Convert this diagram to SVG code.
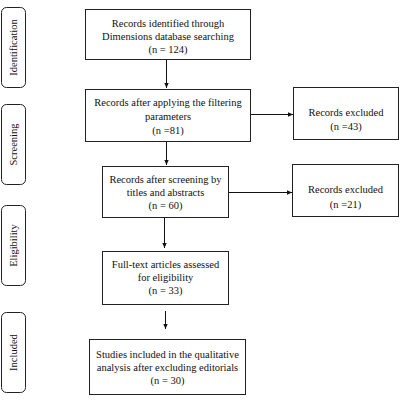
<svg xmlns="http://www.w3.org/2000/svg" width="400" height="400" viewBox="0 0 400 400">
<style>
.box{fill:#fff;stroke:#222;stroke-width:1}
.side{fill:#fff;stroke:#222;stroke-width:1}
text{font-family:"Liberation Serif","Times New Roman",serif;font-size:10.5px;fill:#111;text-anchor:middle}
.conn{stroke:#111;stroke-width:1;fill:none;marker-end:url(#ah)}
</style>
<defs>
<marker id="ah" markerWidth="6" markerHeight="6" refX="5" refY="3" orient="auto" markerUnits="userSpaceOnUse">
<path d="M0,0.8 L5,3 L0,5.2 Z" fill="#111"/>
</marker>
</defs>
<rect width="400" height="400" fill="#fff"/>
<g id="side-identification"><rect class="side" x="1.5" y="7.5" width="24" height="80" rx="5"/><text transform="translate(17,47.5) rotate(-90)">Identification</text></g>
<g id="side-screening"><rect class="side" x="1.5" y="104.5" width="24" height="80" rx="5"/><text transform="translate(17,144.5) rotate(-90)">Screening</text></g>
<g id="side-eligibility"><rect class="side" x="1.5" y="205.5" width="24" height="80" rx="5"/><text transform="translate(17,245.5) rotate(-90)">Eligibility</text></g>
<g id="side-included"><rect class="side" x="1.5" y="312.5" width="24" height="80" rx="5"/><text transform="translate(17,352.5) rotate(-90)">Included</text></g>

<g id="n1"><rect class="box" x="85.5" y="9.5" width="165" height="50"/>
<text x="168" y="27">Records identified through</text>
<text x="168" y="39.5">Dimensions database searching</text>
<text x="168" y="53">(n = 124)</text></g>
<g id="n2"><rect class="box" x="85.5" y="89.5" width="165" height="52"/>
<text x="168" y="106">Records after applying the filtering</text>
<text x="168" y="120">parameters</text>
<text x="168" y="133.5">(n =81)</text></g>
<g id="n2x"><rect class="box" x="293.5" y="87.5" width="105" height="52"/>
<text x="346" y="115.5">Records excluded</text>
<text x="346" y="130">(n =43)</text></g>
<g id="n3"><rect class="box" x="102.5" y="166.5" width="126" height="51"/>
<text x="165.5" y="182.5">Records after screening by</text>
<text x="165.5" y="195.5">titles and abstracts</text>
<text x="165.5" y="208.5">(n = 60)</text></g>
<g id="n3x"><rect class="box" x="292.5" y="164.5" width="106" height="52"/>
<text x="345.5" y="192.5">Records excluded</text>
<text x="345.5" y="207.5">(n =21)</text></g>
<g id="n4"><rect class="box" x="102.5" y="251.5" width="126" height="53"/>
<text x="165.5" y="267.5">Full-text articles assessed</text>
<text x="165.5" y="280.5">for eligibility</text>
<text x="165.5" y="293.5">(n = 33)</text></g>
<g id="n5"><rect class="box" x="89.5" y="339.5" width="156" height="55"/>
<text x="167.5" y="357.5">Studies included in the qualitative</text>
<text x="167.5" y="370.5">analysis after excluding editorials</text>
<text x="167.5" y="383.5">(n = 30)</text></g>

<g id="connectors">
<line class="conn" x1="166.5" y1="60" x2="166.5" y2="88"/>
<line class="conn" x1="166.5" y1="142" x2="166.5" y2="165"/>
<line class="conn" x1="164.5" y1="218" x2="164.5" y2="248"/>
<line class="conn" x1="165.5" y1="311" x2="165.5" y2="329"/>
<line class="conn" x1="251" y1="114.5" x2="293" y2="114.5"/>
<line class="conn" x1="229" y1="192.5" x2="292" y2="192.5"/>
</g>
</svg>
